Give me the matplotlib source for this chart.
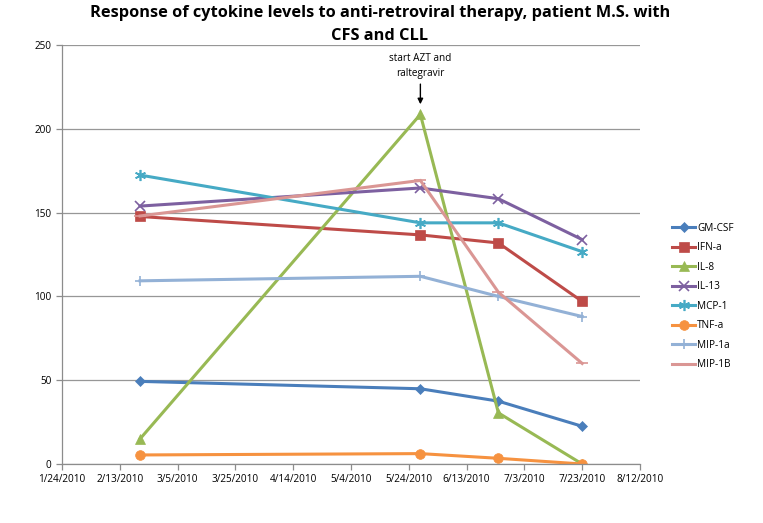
import matplotlib
matplotlib.use("Agg")
import matplotlib.pyplot as plt
import datetime as dt

plt.rcParams['font.family'] = ['Open Sans', 'DejaVu Sans']

dates = ["2010-02-20", "2010-05-28", "2010-06-24", "2010-07-23"]
series_names = ["GM-CSF", "IFN-a", "IL-8", "IL-13", "MCP-1", "TNF-a", "MIP-1a", "MIP-1B"]
gm_csf = [49.3, 44.9, 37.5, 22.5]
ifn_a = [147.7, 136.7, 131.9, 97.0]
il_8 = [15.0, 208.6, 30.5, 0.0]
il_13 = [153.9, 164.7, 158.3, 133.9]
mcp_1 = [172.4, 143.9, 143.9, 126.7]
tnf_a = [5.4, 6.2, 3.4, 0.0]
mip_1a = [109.3, 112.0, 100.0, 88.0]
mip_1b = [148.0, 169.2, 102.5, 60.0]
tick_dates = ["2010-01-24", "2010-02-13", "2010-03-05", "2010-03-25", "2010-04-14",
              "2010-05-04", "2010-05-24", "2010-06-13", "2010-07-03", "2010-07-23", "2010-08-12"]
y_ticks = [0, 50, 100, 150, 200, 250]

title = "Response of cytokine levels to anti-retroviral therapy, patient M.S. with\nCFS and CLL"
annotation_text = "start AZT and\nraltegravir"

def to_dt(s):
    return dt.datetime.strptime(s, "%Y-%m-%d")

x = [to_dt(d) for d in dates]
xt = [to_dt(d) for d in tick_dates]

values = [gm_csf, ifn_a, il_8, il_13, mcp_1, tnf_a, mip_1a, mip_1b]
colors = ["#4A7EBB", "#BE4B48", "#98B954", "#7D60A0", "#46AAC5", "#F69240", "#93B1D6", "#DA9694"]
markers = ["D", "s", "^", "x", (6, 2, 0), "o", "+", "_"]
msizes = [5, 6.5, 6.5, 7, 8, 7, 7, 8]

fig = plt.figure(figsize=(7.63, 5.23), dpi=100)
ax = fig.add_axes([0.0813, 0.1128, 0.7575, 0.8011])

for name, vals, c, m, ms in zip(series_names, values, colors, markers, msizes):
    ax.plot(x, vals, color=c, lw=2.2, marker=m, ms=ms,
            mew=1.2 if m in ("x", "+", "_", (6, 2, 0)) else 0.5,
            mec=c, mfc=c, label=name, solid_joinstyle="miter")

ax.set_xlim(xt[0], xt[-1])
ax.set_ylim(0, 250)
ax.set_xticks(xt)
ax.set_xticklabels([f"{d.month}/{d.day}/{d.year}" for d in xt], fontsize=7.2)
ax.set_yticks(y_ticks)
ax.set_yticklabels([str(v) for v in y_ticks], fontsize=7.2)
ax.grid(axis="y", color="#979797", lw=0.9)
ax.set_axisbelow(True)
for s in ["top", "right"]:
    ax.spines[s].set_visible(False)
for s in ["left", "bottom"]:
    ax.spines[s].set_color("#8C8C8C")
    ax.spines[s].set_linewidth(0.9)
ax.tick_params(axis="both", colors="#8C8C8C", labelcolor="black", length=4, width=0.9)

fig.text(0.498, 0.99, title, ha="center", va="top", fontsize=11.8, fontweight="bold",
         linespacing=1.55)

ax.annotate(annotation_text, xy=(x[1], 213), xytext=(x[1], 230), textcoords="data",
            ha="center", va="bottom", fontsize=7.2, linespacing=1.5,
            arrowprops=dict(arrowstyle="-|>", color="black", lw=1, mutation_scale=8))

ax.legend(loc="center left", bbox_to_anchor=(1.04, 0.40), frameon=False, fontsize=7.2,
          handlelength=2.3, handletextpad=0.2, labelspacing=0.85)

fig.savefig("out.png", dpi=100)
